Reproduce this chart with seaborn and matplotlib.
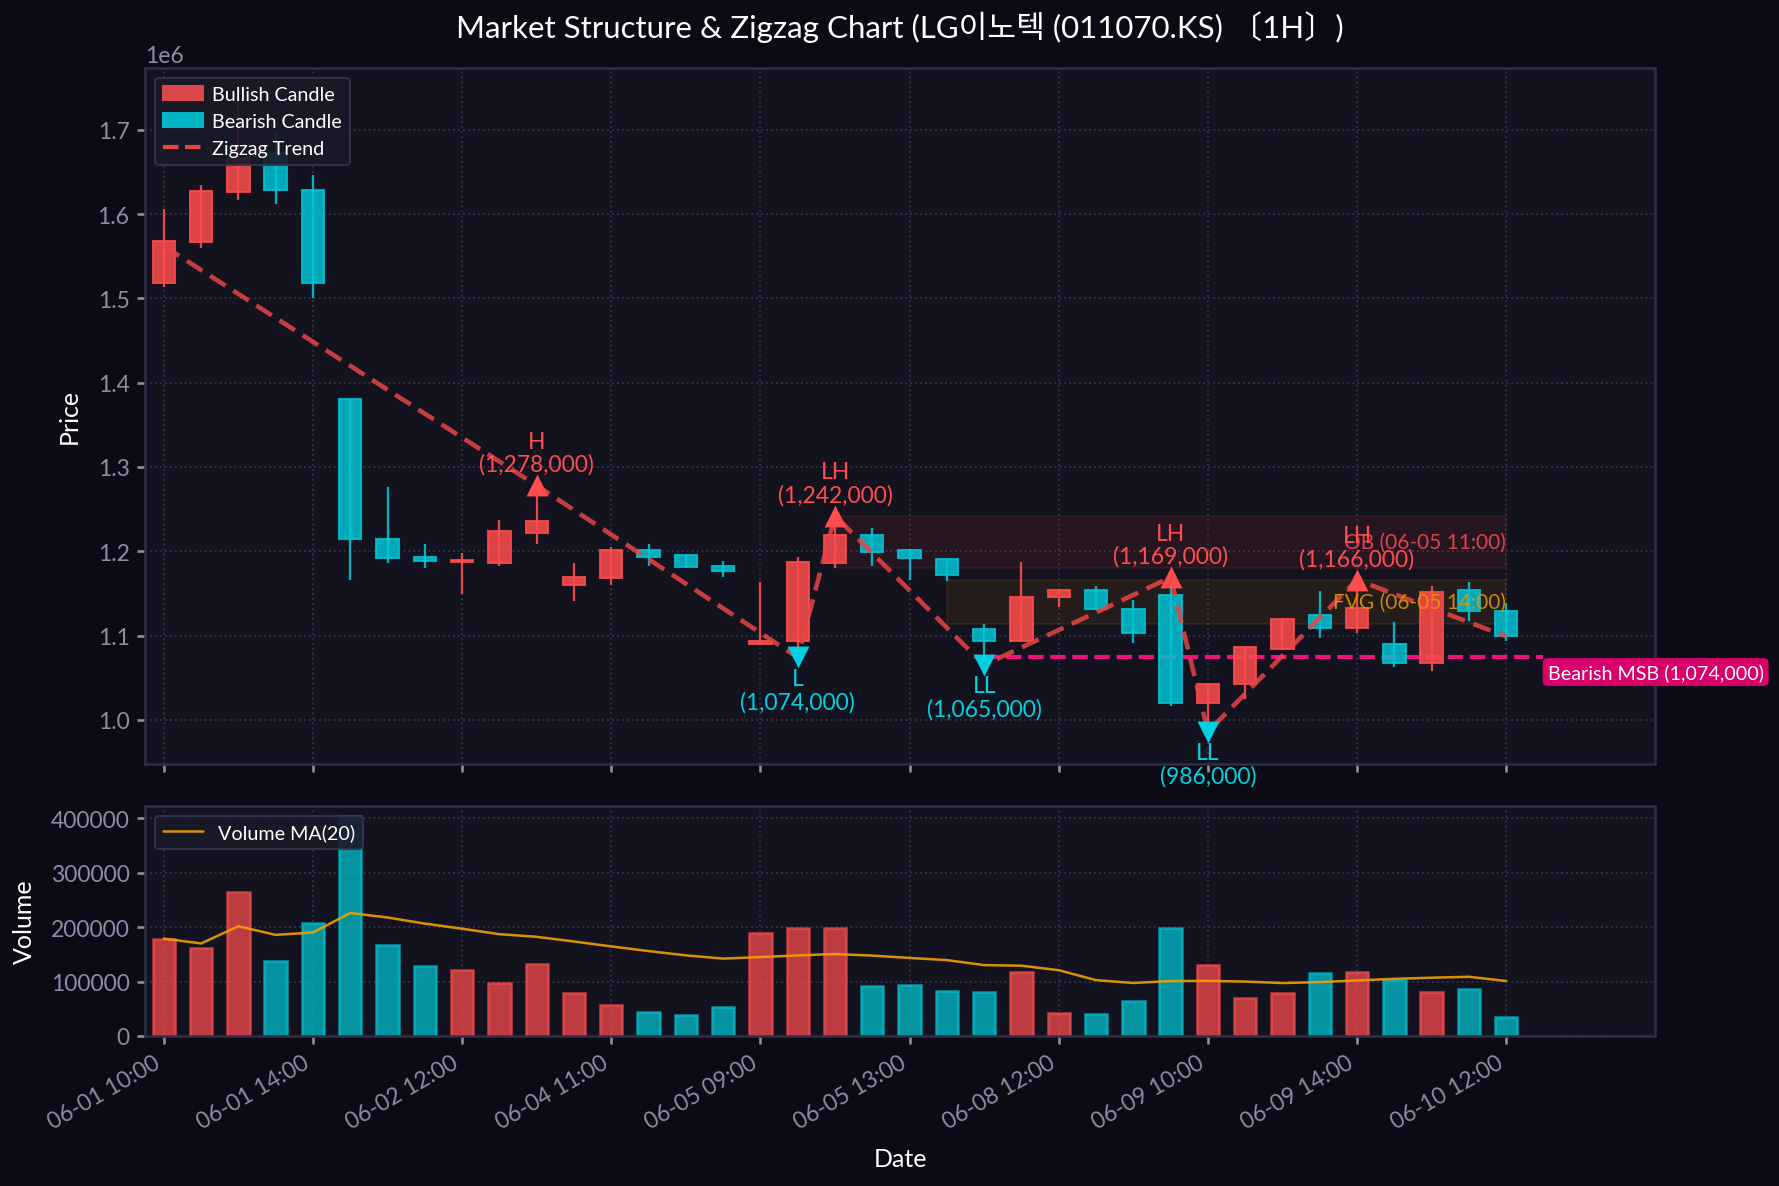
import numpy as np
import pandas as pd
import seaborn as sns
import matplotlib
matplotlib.use("Agg")
import matplotlib.pyplot as plt
from matplotlib.patches import Patch
from matplotlib.lines import Line2D

# OHLC in KRW (hourly candles)
opens = [1518000, 1567000, 1626000, 1672000, 1629000, 1381000, 1215000, 1193000, 1187000, 1186000,
         1222000, 1160000, 1168000, 1201000, 1195000, 1182000, 1090000, 1093000, 1186000, 1219000,
         1201000, 1191000, 1108000, 1093000, 1146000, 1154000, 1132000, 1148000, 1020000, 1042000,
         1084000, 1124000, 1109000, 1090000, 1067000, 1154000, 1129000]
highs = [1606000, 1634000, 1736000, 1696000, 1646000, 1381000, 1276000, 1209000, 1198000, 1237000,
         1278000, 1186000, 1205000, 1208000, 1196000, 1188000, 1163000, 1193000, 1242000, 1228000,
         1203000, 1192000, 1114000, 1187000, 1155000, 1159000, 1142000, 1169000, 1042000, 1087000,
         1121000, 1153000, 1166000, 1116000, 1159000, 1164000, 1139000]
lows = [1514000, 1560000, 1617000, 1612000, 1500000, 1166000, 1186000, 1180000, 1149000, 1182000,
        1208000, 1141000, 1160000, 1182000, 1180000, 1169000, 1089000, 1074000, 1180000, 1183000,
        1166000, 1165000, 1065000, 1092000, 1134000, 1130000, 1091000, 1017000, 986000, 1025000,
        1083000, 1097000, 1103000, 1063000, 1058000, 1117000, 1093000]
closes = [1568000, 1627000, 1666000, 1628000, 1518000, 1215000, 1192000, 1188000, 1189000, 1224000,
          1236000, 1170000, 1201000, 1193000, 1181000, 1176000, 1093000, 1187000, 1219000, 1199000,
          1192000, 1172000, 1094000, 1146000, 1154000, 1131000, 1103000, 1020000, 1042000, 1086000,
          1120000, 1109000, 1133000, 1067000, 1152000, 1129000, 1099000]
volumes = [179000, 161000, 265000, 138000, 208000, 405000, 168000, 128000, 122000, 97000,
           133000, 79000, 57000, 44000, 38000, 53000, 190000, 199000, 198000, 92000,
           93000, 82000, 80000, 117000, 42000, 40000, 64000, 198000, 130000, 70000,
           79000, 115000, 117000, 103000, 80000, 86000, 35000]

tick_labels = ["06-01 10:00", "06-01 14:00", "06-02 12:00", "06-04 11:00", "06-05 09:00",
               "06-05 13:00", "06-08 12:00", "06-09 10:00", "06-09 14:00", "06-10 12:00"]

# zigzag pivots
zz_idx = [0, 10, 17, 18, 22, 27, 28, 32, 36]
zz_price = [1562000, 1278000, 1074000, 1242000, 1065000, 1169000, 986000, 1166000, 1099000]
swing_idx = [10, 17, 18, 22, 27, 28, 32]
swing_type = ["H", "L", "LH", "LL", "LH", "LL", "LH"]
swing_price = [1278000, 1074000, 1242000, 1065000, 1169000, 986000, 1166000]

ob_idx = 18          # 06-05 11:00
fvg_idx = 21         # 06-05 14:00
msb_idx = 22
msb_price = 1074000

BG = "#0b0a15"
AX_BG = "#13121f"
BULL = "#ff4d4d"
BEAR = "#00c4d4"
GRID = "#3a3950"
TXT = "#8e8ca6"

sns.set_theme(style="dark", rc={
    "figure.facecolor": BG, "axes.facecolor": AX_BG, "axes.edgecolor": "#2f2e45",
    "axes.labelcolor": "white", "xtick.color": TXT, "ytick.color": TXT,
    "text.color": "white", "axes.grid": True, "grid.color": GRID,
    "grid.linestyle": ":", "grid.linewidth": 0.9,
    "xtick.bottom": True, "ytick.left": True,
})
plt.rcParams["font.family"] = ["Lato", "Noto Sans CJK KR", "DejaVu Sans"]
plt.rcParams["axes.unicode_minus"] = False

df = pd.DataFrame({"idx": np.arange(len(opens)), "open": opens, "high": highs,
                   "low": lows, "close": closes, "volume": volumes})
df["dir"] = np.where(df["close"] >= df["open"], "bull", "bear")
df["vma"] = df["volume"].rolling(20, min_periods=1).mean()
n = len(df)

fig = plt.figure(figsize=(11.86, 7.9133), dpi=150)
ax1 = fig.add_axes([0.0816, 0.3558, 0.8489, 0.5859])
ax2 = fig.add_axes([0.0816, 0.1264, 0.8489, 0.1940], sharex=ax1)

# candles
cols = np.where(df["dir"] == "bull", BULL, BEAR)
ax1.vlines(df["idx"], df["low"], df["high"], colors=cols, lw=1.1, alpha=0.9, zorder=2)
body_lo = np.minimum(df["open"], df["close"])
body_h = np.maximum(np.abs(df["close"] - df["open"]), 2500)
ax1.bar(df["idx"], body_h, bottom=body_lo, width=0.6, color=cols, edgecolor=cols,
        linewidth=1, alpha=0.85, zorder=3)

# order block and FVG zones
ax1.fill_between([ob_idx, n - 1], lows[ob_idx], highs[ob_idx], color=BULL, alpha=0.08,
                 zorder=1)
ax1.text(n - 1, (lows[ob_idx] + highs[ob_idx]) / 2, "OB (06-05 11:00)", ha="right",
         va="center", color=BULL, alpha=0.85, fontsize=10, zorder=6)
ax1.fill_between([fvg_idx, n - 1], highs[fvg_idx + 1], lows[fvg_idx - 1], color="#ffa500",
                 alpha=0.08, zorder=1)
ax1.text(n - 1, (highs[fvg_idx + 1] + lows[fvg_idx - 1]) / 2, "FVG (06-05 14:00)", ha="right",
         va="center", color="#e69a00", alpha=0.85, fontsize=10, zorder=6)

# zigzag
sns.lineplot(x=zz_idx, y=zz_price, ax=ax1, color="#e84545", lw=2.2, linestyle="--",
             alpha=0.85, zorder=4)
ax1.lines[-1].set_dashes((4, 2))

# swing markers and labels
for i, t, p in zip(swing_idx, swing_type, swing_price):
    high = t.endswith("H")
    c = BULL if high else "#00d0e0"
    ax1.scatter(i, p, marker="^" if high else "v", s=110, color=c, zorder=5, linewidths=0)
    ax1.annotate(f"{t}\n({p:,})", (i, p), xytext=(0, 5 if high else -5),
                 textcoords="offset points", ha="center", va="bottom" if high else "top",
                 color=c, fontsize=11, linespacing=1.1, zorder=6)

# bearish MSB
ax1.hlines(msb_price, msb_idx, n, colors="#f0107f", linestyles="--", lw=2, zorder=2)
ax1.annotate(f"Bearish MSB ({msb_price:,})", (n, msb_price), xytext=(2, -7),
             textcoords="offset points", ha="left", va="center", color="white", fontsize=9.5,
             bbox=dict(boxstyle="round,pad=0.25", fc="#d9006c", ec="none"), zorder=6)

ax1.set_xlim(-0.5, 40)
ax1.set_ylim(948000, 1773000)
ax1.set_ylabel("Price", fontsize=12, labelpad=8)
ax1.set_title("Market Structure & Zigzag Chart (LG이노텍 (011070.KS) 〔1H〕)", fontsize=15,
              color="white", pad=15)
ax1.tick_params(labelbottom=False, labelsize=11, length=4, color=TXT)
ax1.yaxis.get_offset_text().set_color(TXT)
ax1.yaxis.get_offset_text().set_fontsize(11)

leg = ax1.legend(handles=[Patch(color="#d94848", label="Bullish Candle"),
                          Patch(color="#00b5c4", label="Bearish Candle"),
                          Line2D([0], [0], color="#e84545", lw=2, ls="--", label="Zigzag Trend")],
                 loc="upper left", fontsize=9.5, facecolor="#1a1929", edgecolor="#35344c",
                 framealpha=0.9, handlelength=2.0, handletextpad=0.5)
for t in leg.get_texts():
    t.set_color("white")

# volume
sns.barplot(data=df, x="idx", y="volume", hue="dir", palette={"bull": BULL, "bear": BEAR},
            native_scale=True, width=0.6, dodge=False, legend=False, alpha=0.72,
            saturation=1, linewidth=1.2, ax=ax2, zorder=2)
for patch in ax2.patches:
    fc = patch.get_facecolor()
    patch.set_edgecolor((fc[0], fc[1], fc[2], 0.95))
sns.lineplot(data=df, x="idx", y="vma", ax=ax2, color="#f0a000", lw=1.2, alpha=0.9,
             label="Volume MA(20)", zorder=3)
vleg = ax2.legend(loc="upper left", fontsize=9.5, facecolor="#1a1929", edgecolor="#35344c",
                  framealpha=0.9, handlelength=2.0)
for t in vleg.get_texts():
    t.set_color("white")
ax2.set_ylim(0, max(volumes) * 1.045)
ax2.set_ylabel("Volume", fontsize=12, labelpad=7)
ax2.set_xlabel("Date", fontsize=12, labelpad=7)
ax2.set_xticks(np.arange(0, n, 4))
ax2.set_xticklabels(tick_labels, rotation=30, ha="right")
ax2.set_xlim(-0.5, 40)
ax2.tick_params(labelsize=11, length=4, color=TXT)
ax2.ticklabel_format(axis="y", style="plain")

for ax in (ax1, ax2):
    ax.grid(True, color=GRID, linestyle=":", linewidth=0.9, alpha=0.8)
    for s in ax.spines.values():
        s.set_color("#2f2e45")
        s.set_linewidth(1.2)

fig.savefig("out.png", dpi=150, facecolor=BG)
